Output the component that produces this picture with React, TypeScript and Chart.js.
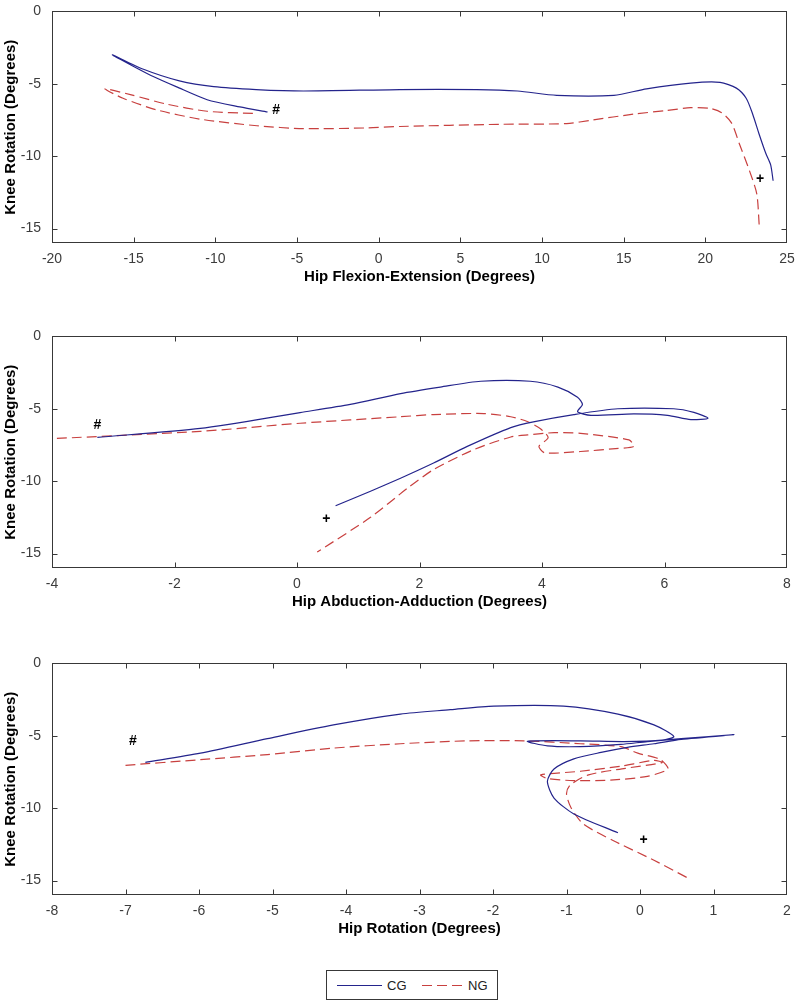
import React, { useEffect, useRef } from "react";
import { Chart, registerables } from "chart.js";

Chart.register(...registerables);

const CG_COLOR = "#24248c";
const NG_COLOR = "#c8403f";
const AXIS_COLOR = "#383838";
const TICK_COLOR = "#3c3c3c";
const FONT = '"Liberation Sans", Arial, sans-serif';

const seriesNames = ["CG", "NG"];
const yLabel = "Knee Rotation (Degrees)";
const yTicks = [-15, -10, -5, 0];
const yMin = -16;
const yMax = 0;

// Panel 1 — Hip Flexion-Extension
const p1XLabel = "Hip Flexion-Extension (Degrees)";
const p1XTicks = [-20, -15, -10, -5, 0, 5, 10, 15, 20, 25];
const p1CgX = [-6.8, -8.5, -10.5, -12.4, -13.8, -15.0, -16.3, -14.4, -12.2, -10.1, -7.5, -4.6, 1.3, 6.0, 8.5, 10.9, 14.4, 16.4, 19.1, 20.9, 21.9, 22.5, 22.9, 23.3, 23.7, 24.0, 24.15];
const p1CgY = [-6.95, -6.6, -6.1, -5.2, -4.5, -3.8, -3.0, -4.0, -4.8, -5.2, -5.4, -5.5, -5.4, -5.4, -5.5, -5.8, -5.8, -5.35, -4.95, -4.9, -5.3, -6.0, -7.1, -8.5, -9.8, -10.6, -11.7];
const p1NgX = [-7.7, -10.5, -13.0, -15.2, -16.75, -15.65, -13.6, -10.9, -7.45, -4.6, -0.7, 1.3, 7.4, 11.5, 13.1, 15.6, 17.6, 19.1, 20.3, 21.0, 21.6, 22.1, 22.7, 23.15, 23.3];
const p1NgY = [-7.05, -6.9, -6.4, -5.75, -5.35, -6.0, -6.8, -7.45, -7.9, -8.1, -8.05, -7.95, -7.8, -7.75, -7.5, -7.1, -6.85, -6.65, -6.7, -7.0, -7.7, -9.2, -11.0, -12.6, -14.8];
const p1MarkText = ["#", "+"];
const p1MarkX = [-6.28, 23.35];
const p1MarkY = [-6.84, -11.6];

// Panel 2 — Hip Abduction-Adduction
const p2XLabel = "Hip Abduction-Adduction (Degrees)";
const p2XTicks = [-4, -2, 0, 2, 4, 6, 8];
const p2CgX = [-3.26, -1.58, 0.05, 0.87, 1.69, 2.34, 3.0, 3.81, 4.26, 4.58, 4.66, 4.58, 4.8, 5.5, 6.05, 6.43, 6.71, 6.48, 6.15, 5.24, 4.52, 3.86, 3.49, 2.78, 2.23, 1.69, 1.2, 0.63];
const p2CgY = [-6.97, -6.36, -5.26, -4.7, -3.95, -3.5, -3.1, -3.1, -3.5, -4.2, -4.7, -5.2, -5.45, -5.35, -5.45, -5.75, -5.65, -5.25, -5.0, -5.0, -5.4, -5.9, -6.3, -7.6, -8.75, -9.8, -10.7, -11.7];
const p2NgX = [-3.92, -1.58, 0.05, 1.69, 2.23, 3.05, 3.49, 3.77, 3.98, 4.1, 3.95, 4.05, 4.63, 5.2, 5.5, 5.42, 4.63, 4.2, 3.77, 3.49, 2.9, 2.23, 1.8, 1.2, 0.33];
const p2NgY = [-7.05, -6.56, -6.0, -5.55, -5.4, -5.33, -5.55, -5.9, -6.4, -7.0, -7.6, -8.05, -7.95, -7.75, -7.6, -7.15, -6.7, -6.65, -6.8, -6.95, -7.8, -9.2, -10.5, -12.5, -14.9];
const p2MarkText = ["#", "+"];
const p2MarkX = [-3.26, 0.48];
const p2MarkY = [-6.15, -12.65];

// Panel 3 — Hip Rotation
const p3XLabel = "Hip Rotation (Degrees)";
const p3XTicks = [-8, -7, -6, -5, -4, -3, -2, -1, 0, 1, 2];
const p3CgX = [-6.73, -5.98, -5.07, -4.17, -3.26, -2.58, -1.99, -1.04, -0.3, 0.19, 0.46, 0.3, -0.22, -0.81, -1.53, -1.26, -0.81, -0.26, 0.1, 0.56, 1.28, 0.56, 0.19, -0.17, -0.53, -0.9, -1.17, -1.26, -1.17, -0.9, -0.3];
const p3CgY = [-6.84, -6.2, -5.2, -4.25, -3.5, -3.2, -2.95, -2.95, -3.5, -4.25, -5.05, -5.3, -5.4, -5.35, -5.38, -5.7, -5.75, -5.6, -5.4, -5.2, -4.92, -5.25, -5.55, -5.8, -6.15, -6.6, -7.3, -8.15, -9.3, -10.4, -11.7];
const p3NgX = [-7.0, -5.98, -5.07, -4.17, -3.26, -2.35, -1.58, -0.81, -0.26, -0.03, 0.28, 0.38, 0.1, -0.36, -0.9, -1.26, -1.35, -0.81, -0.26, 0.19, 0.3, -0.2, -0.7, -0.95, -1.0, -0.94, -0.77, -0.36, 0.19, 0.66];
const p3NgY = [-7.04, -6.65, -6.3, -5.85, -5.55, -5.35, -5.35, -5.55, -5.75, -6.2, -6.65, -7.3, -7.8, -8.05, -8.1, -7.95, -7.7, -7.45, -7.1, -6.7, -6.85, -7.25, -7.7, -8.4, -9.0, -9.95, -11.1, -12.25, -13.6, -14.85];
const p3MarkText = ["#", "+"];
const p3MarkX = [-6.9, 0.05];
const p3MarkY = [-5.4, -12.2];

type PanelDef = {
  xLabel: string;
  xTicks: number[];
  cgX: number[];
  cgY: number[];
  ngX: number[];
  ngY: number[];
  markText: string[];
  markX: number[];
  markY: number[];
};

const panels: PanelDef[] = [
  { xLabel: p1XLabel, xTicks: p1XTicks, cgX: p1CgX, cgY: p1CgY, ngX: p1NgX, ngY: p1NgY, markText: p1MarkText, markX: p1MarkX, markY: p1MarkY },
  { xLabel: p2XLabel, xTicks: p2XTicks, cgX: p2CgX, cgY: p2CgY, ngX: p2NgX, ngY: p2NgY, markText: p2MarkText, markX: p2MarkX, markY: p2MarkY },
  { xLabel: p3XLabel, xTicks: p3XTicks, cgX: p3CgX, cgY: p3CgY, ngX: p3NgX, ngY: p3NgY, markText: p3MarkText, markX: p3MarkX, markY: p3MarkY },
];

const panelTops = [0, 325, 652];

const pts = (xs: number[], ys: number[]) => xs.map((x, i) => ({ x, y: ys[i] }));

const boxPlugin = {
  id: "matlabBox",
  afterDatasetsDraw(chart: any) {
    const { ctx, chartArea: a, scales } = chart;
    const L = Math.round(a.left) + 0.5;
    const R = Math.round(a.right) - 0.5;
    const T = Math.round(a.top) + 0.5;
    const B = Math.round(a.bottom) - 0.5;
    const len = 5;
    ctx.save();
    ctx.strokeStyle = AXIS_COLOR;
    ctx.lineWidth = 1;
    ctx.strokeRect(L, T, R - L, B - T);
    ctx.beginPath();
    for (const t of scales.x.ticks) {
      const px = Math.round(scales.x.getPixelForValue(t.value)) + 0.5;
      if (px <= L + 1 || px >= R - 1) continue;
      ctx.moveTo(px, B);
      ctx.lineTo(px, B - len);
      ctx.moveTo(px, T);
      ctx.lineTo(px, T + len);
    }
    for (const t of scales.y.ticks) {
      const py = Math.round(scales.y.getPixelForValue(t.value)) + 0.5;
      if (py <= T + 1 || py >= B - 1) continue;
      ctx.moveTo(L, py);
      ctx.lineTo(L + len, py);
      ctx.moveTo(R, py);
      ctx.lineTo(R - len, py);
    }
    ctx.stroke();
    ctx.restore();
  },
};

const makeMarkPlugin = (p: PanelDef) => ({
  id: "marks",
  afterDatasetsDraw(chart: any) {
    const { ctx, scales } = chart;
    ctx.save();
    ctx.font = `bold 14px ${FONT}`;
    ctx.fillStyle = "#000";
    ctx.textAlign = "center";
    ctx.textBaseline = "middle";
    p.markText.forEach((t, i) => {
      ctx.fillText(t, scales.x.getPixelForValue(p.markX[i]), scales.y.getPixelForValue(p.markY[i]));
    });
    ctx.restore();
  },
});

function Panel({ p, top }: { p: PanelDef; top: number }) {
  const ref = useRef<HTMLCanvasElement>(null);
  useEffect(() => {
    const xMin = p.xTicks[0];
    const xMax = p.xTicks[p.xTicks.length - 1];
    const chart = new Chart(ref.current as HTMLCanvasElement, {
      type: "scatter",
      data: {
        datasets: [
          {
            label: seriesNames[0],
            data: pts(p.cgX, p.cgY),
            showLine: true,
            borderColor: CG_COLOR,
            backgroundColor: CG_COLOR,
            borderWidth: 1.2,
            pointRadius: 0,
            tension: 0.25,
            fill: false,
          },
          {
            label: seriesNames[1],
            data: pts(p.ngX, p.ngY),
            showLine: true,
            borderColor: NG_COLOR,
            backgroundColor: NG_COLOR,
            borderWidth: 1.2,
            borderDash: [10, 5],
            pointRadius: 0,
            tension: 0.25,
            fill: false,
          },
        ],
      },
      options: {
        responsive: false,
        animation: false,
        events: [],
        layout: { padding: { top: 9, right: 13, bottom: 0, left: 0 } },
        plugins: { legend: { display: false }, tooltip: { enabled: false } },
        scales: {
          x: {
            type: "linear",
            position: "bottom",
            min: xMin,
            max: xMax,
            afterBuildTicks: (s: any) => {
              s.ticks = p.xTicks.map((v) => ({ value: v }));
            },
            afterFit: (s: any) => {
              s.height = 57;
            },
            grid: { display: false },
            border: { display: false },
            ticks: {
              color: TICK_COLOR,
              font: { family: FONT, size: 14 },
              padding: 0,
              maxRotation: 0,
              autoSkip: false,
              callback: (v: any) => String(v),
            },
            title: {
              display: true,
              text: p.xLabel,
              color: "#000",
              font: { family: FONT, size: 15, weight: "bold" },
              padding: { top: 0, bottom: 14 },
            },
          },
          y: {
            type: "linear",
            position: "left",
            min: yMin,
            max: yMax,
            afterBuildTicks: (s: any) => {
              s.ticks = yTicks.map((v) => ({ value: v }));
            },
            afterFit: (s: any) => {
              s.width = 52;
            },
            grid: { display: false },
            border: { display: false },
            ticks: {
              color: TICK_COLOR,
              font: { family: FONT, size: 14 },
              padding: 3,
              autoSkip: false,
              callback: (v: any) => String(v),
            },
            title: {
              display: true,
              text: yLabel,
              color: "#000",
              font: { family: FONT, size: 15, weight: "bold" },
              padding: { top: 2, bottom: 0 },
            },
          },
        },
      } as any,
      plugins: [boxPlugin, makeMarkPlugin(p)],
    });
    return () => chart.destroy();
  }, [p]);
  return (
    <canvas
      ref={ref}
      width={800}
      height={300}
      style={{ position: "absolute", left: 0, top, width: 800, height: 300 }}
    />
  );
}

function Legend() {
  return (
    <svg
      width={172}
      height={30}
      style={{ position: "absolute", left: 326, top: 970 }}
      fontFamily={FONT}
    >
      <rect x={0.5} y={0.5} width={171} height={29} fill="#fff" stroke={AXIS_COLOR} strokeWidth={1} />
      <line x1={11} y1={15.5} x2={56} y2={15.5} stroke={CG_COLOR} strokeWidth={1.2} />
      <text x={61} y={20} fontSize={13} fill="#222">{seriesNames[0]}</text>
      <line x1={96} y1={15.5} x2={137} y2={15.5} stroke={NG_COLOR} strokeWidth={1.2} strokeDasharray="10 5" />
      <text x={142} y={20} fontSize={13} fill="#222">{seriesNames[1]}</text>
    </svg>
  );
}

export default function App() {
  return (
    <div style={{ position: "absolute", left: 0, top: 0, width: 800, height: 1003, background: "#fff", overflow: "hidden" }}>
      {panels.map((p, i) => (
        <Panel key={i} p={p} top={panelTops[i]} />
      ))}
      <Legend />
    </div>
  );
}
